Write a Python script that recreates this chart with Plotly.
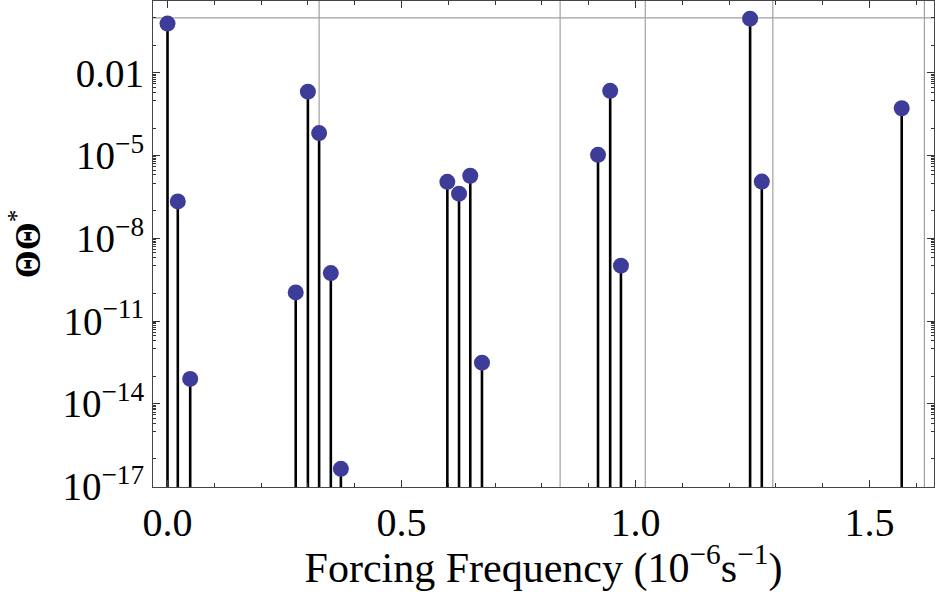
import plotly.graph_objects as go

# Forcing frequency (1e-6 s^-1) and spectral amplitude values
freqs = [0.000, 0.022, 0.0485, 0.274, 0.300, 0.324, 0.349, 0.3705,
         0.598, 0.623, 0.647, 0.672, 0.920, 0.946, 0.969, 1.245, 1.270, 1.569]
log_amps = [-0.21, -6.66, -13.10, -9.96, -2.68, -4.18, -9.26, -16.36,
            -5.95, -6.38, -5.73, -12.51, -4.97, -2.65, -8.99, -0.03, -5.94, -3.28]
amps = [10 ** v for v in log_amps]

# reference grid lines
grid_freqs = [0.324, 0.839, 1.021, 1.2936, 1.6175]
grid_levels = [1.0]

x_range = [-0.031, 1.638]
y_log_range = [-17.02, 0.61]
stem_base = 10 ** -17.5

x_major = [0.0, 0.5, 1.0, 1.5]
x_major_text = ["0.0", "0.5", "1.0", "1.5"]
x_minor = [round(0.1 * i, 1) for i in range(0, 17) if i % 5 != 0]

y_major_exp = [-2, -5, -8, -11, -14, -17]
y_major_text = ["0.01", "10<sup>−5</sup>", "10<sup>−8</sup>", "10<sup>−11</sup>",
                "10<sup>−14</sup>", "10<sup>−17</sup>"]
y_major = [10 ** e for e in y_major_exp]
y_minor = []
for e in range(-17, 1):
    if e not in y_major_exp:
        y_minor.append(10 ** e)
for e in y_major_exp:
    for m in range(2, 10):
        y_minor.append(m * 10 ** (e - 1))

stem_x, stem_y = [], []
for f, a in zip(freqs, amps):
    stem_x += [f, f, None]
    stem_y += [stem_base, a, None]

fig = go.Figure()
fig.add_trace(go.Scatter(x=stem_x, y=stem_y, mode="lines",
                         line=dict(color="black", width=2.6),
                         hoverinfo="skip", showlegend=False, cliponaxis=True))
fig.add_trace(go.Scatter(x=freqs, y=amps, mode="markers",
                         marker=dict(color="#3D3D99", size=16, line=dict(width=0)),
                         showlegend=False, cliponaxis=False))

for g in grid_freqs:
    fig.add_shape(type="line", xref="x", yref="paper", x0=g, x1=g, y0=0, y1=1,
                  line=dict(color="#a0a0a0", width=1.2), layer="below")
for g in grid_levels:
    fig.add_shape(type="line", xref="paper", yref="y", x0=0, x1=1, y0=g, y1=g,
                  line=dict(color="#a0a0a0", width=1.2), layer="below")

serif = "Liberation Serif, Times New Roman, serif"
fig.update_layout(
    width=935, height=592,
    margin=dict(l=153, r=1, t=1, b=105),
    paper_bgcolor="white", plot_bgcolor="white",
    font=dict(family=serif, color="black"),
    xaxis=dict(
        range=x_range, tickmode="array", tickvals=x_major, ticktext=x_major_text,
        ticks="inside", ticklen=7, tickwidth=1, tickcolor="#333",
        showline=True, linecolor="#444", linewidth=1.2, mirror="allticks",
        showgrid=False, zeroline=False,
        tickfont=dict(size=40, family=serif),
        minor=dict(tickmode="array", tickvals=x_minor, ticks="inside",
                   ticklen=4, tickcolor="#333", showgrid=False),
        title=dict(text="Forcing Frequency (10<sup>−6</sup>s<sup>−1</sup>)",
                   font=dict(size=42, family=serif), standoff=6),
    ),
    yaxis=dict(
        type="log", range=y_log_range, tickmode="array", tickvals=y_major,
        ticktext=y_major_text,
        ticks="inside", ticklen=7, tickwidth=1, tickcolor="#333",
        showline=True, linecolor="#444", linewidth=1.2, mirror="allticks",
        showgrid=False, zeroline=False,
        tickfont=dict(size=39, family=serif),
        minor=dict(tickmode="array", tickvals=y_minor, ticks="inside",
                   ticklen=3, tickcolor="#333", showgrid=False),
        title=dict(text="<b>ΘΘ</b><sup>*</sup>", font=dict(size=36, family=serif),
                   standoff=10),
    ),
)

fig.write_html("out.html")
